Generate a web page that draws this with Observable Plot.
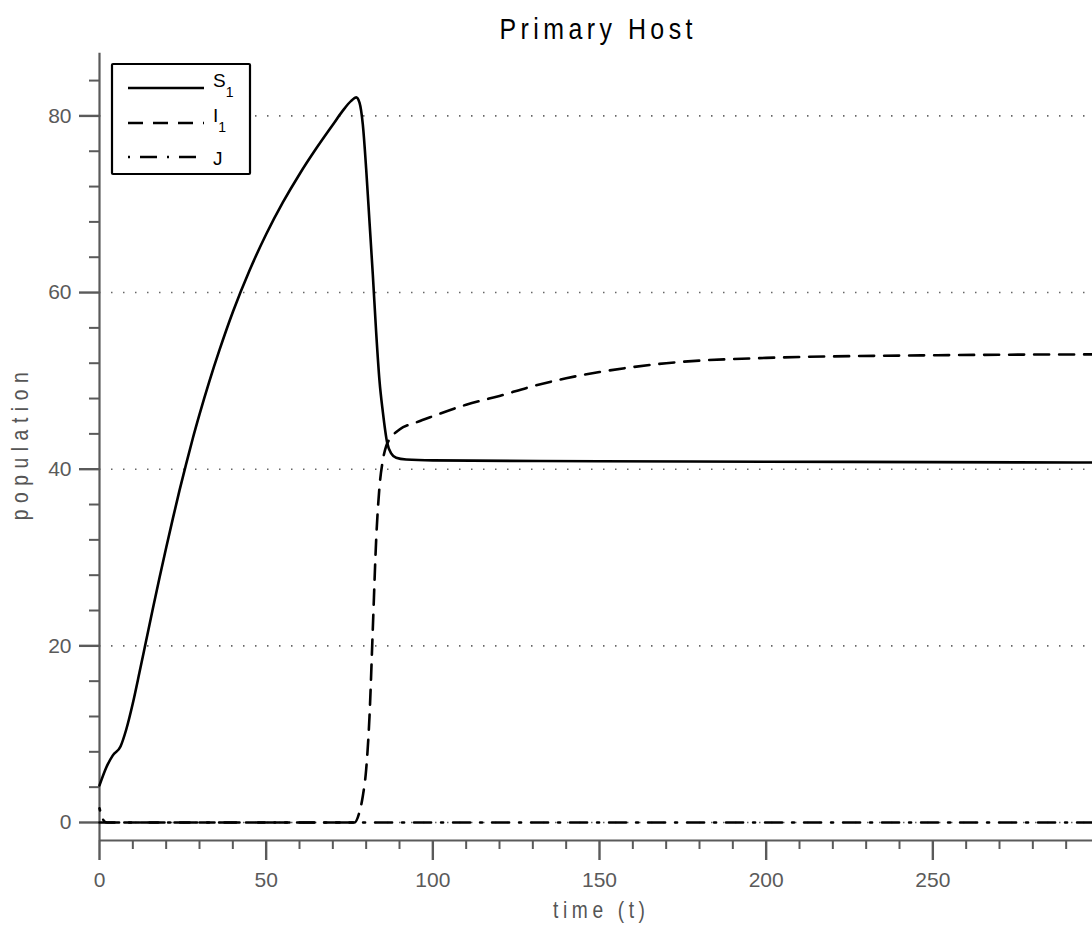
<!DOCTYPE html>
<html>
<head>
<meta charset="utf-8">
<script src="https://cdn.jsdelivr.net/npm/d3@7"></script>
<script src="https://cdn.jsdelivr.net/npm/@observablehq/plot@0.6"></script>
<style>
  html, body { margin: 0; padding: 0; background: #fff; }
  #chart { width: 1092px; height: 928px; }
</style>
</head>
<body>
<div id="chart"></div>
<script>
// ---- data ----
const title = "Primary Host";
const xLabel = "time (t)";
const yLabel = "population";

const tS = [0, 2, 4, 6.3, 8, 10, 12, 14, 16, 18, 20, 22, 24, 26, 28, 30, 33, 36, 40, 45, 50, 55, 60, 65, 70, 73, 75.5, 77, 78, 79, 80, 81, 82, 83, 84, 85, 86.3, 87.5, 89, 92, 100, 150, 200, 250, 297.9];
const S1 = [4.2, 6.2, 7.6, 8.6, 10.5, 13.5, 17, 20.6, 24.2, 27.7, 31.1, 34.4, 37.6, 40.6, 43.5, 46.2, 50, 53.5, 57.8, 62.5, 66.6, 70.2, 73.4, 76.3, 79, 80.6, 81.7, 82.1, 81.5, 79, 74, 68, 62, 55.5, 50, 46.5, 43, 41.8, 41.3, 41.1, 41.0, 40.9, 40.85, 40.8, 40.75];

const tI = [0, 76.5, 78, 79, 80, 81, 82, 83, 84, 85, 86, 87.5, 90, 95, 100, 110, 120, 130, 140, 150, 170, 200, 250, 297.9];
const I1 = [0, 0, 1.2, 3, 6, 12, 22, 32, 38, 41, 42.6, 43.6, 44.5, 45.3, 46, 47.3, 48.3, 49.4, 50.3, 51.0, 52.0, 52.6, 52.9, 53.0];

const tJ = [0, 0.5, 1, 1.5, 2.3, 297.9];
const J = [1.6, 0.9, 0.4, 0.1, 0, 0];

const xDomain = [0, 297.9];
const yDomain = [-2.04, 87.1];
const xMajor = [0, 50, 100, 150, 200, 250];
const xMinor = d3.range(0, 298, 10).filter(v => v % 50 !== 0);
const yMajor = [0, 20, 40, 60, 80];
const yMinor = d3.range(0, 88, 4).filter(v => v % 20 !== 0);

const legendItems = [
  {base: "S", sub: "1", dash: null},
  {base: "I", sub: "1", dash: "15,10"},
  {base: "J", sub: "", dash: "2,10,17,10"}
];

// ---- build tables ----
const dS = tS.map((t, i) => ({t, v: S1[i]}));
const dI = tI.map((t, i) => ({t, v: I1[i]}));
const dJ = tJ.map((t, i) => ({t, v: J[i]}));

const axisColor = "#5a5a5a";
const tickFont = "'Liberation Sans', Arial, Helvetica, sans-serif";

const plot = Plot.plot({
  width: 1092,
  height: 928,
  marginLeft: 99,
  marginRight: 0,
  marginTop: 52.7,
  marginBottom: 88,
  style: {background: "#fff", fontFamily: tickFont},
  x: {domain: xDomain, label: null},
  y: {domain: yDomain, label: null},
  marks: [
    Plot.gridY(yMajor, {stroke: "#666", strokeOpacity: 1, strokeWidth: 1.6, strokeDasharray: "1.5,10.5"}),
    Plot.ruleX([xDomain[0]], {stroke: axisColor, strokeWidth: 2.2}),
    Plot.ruleY([yDomain[0]], {stroke: axisColor, strokeWidth: 2.2}),
    Plot.axisX(xMajor, {tickSize: 20, tickPadding: 12, stroke: axisColor, strokeWidth: 2.4, fill: axisColor, fontSize: 21, label: null}),
    Plot.axisX(xMinor, {tickSize: 9, tickFormat: () => "", stroke: axisColor, strokeWidth: 2, label: null}),
    Plot.axisY(yMajor, {tickSize: 20, tickPadding: 8, stroke: axisColor, strokeWidth: 2.4, fill: axisColor, fontSize: 21, label: null}),
    Plot.axisY(yMinor, {tickSize: 10, tickFormat: () => "", stroke: axisColor, strokeWidth: 2, label: null}),
    Plot.line(dJ, {x: "t", y: "v", stroke: "#000", strokeWidth: 2.6, strokeDasharray: "2,10,17,10", curve: "monotone-x"}),
    Plot.line(dI, {x: "t", y: "v", stroke: "#000", strokeWidth: 2.6, strokeDasharray: "15,10", curve: "monotone-x"}),
    Plot.line(dS, {x: "t", y: "v", stroke: "#000", strokeWidth: 2.6, curve: "monotone-x"})
  ]
});

document.getElementById("chart").appendChild(plot);
const svg = d3.select(plot);

// ---- titles (condensed, widely spaced like the reference) ----
const xs = plot.scale("x"), ys = plot.scale("y");
const xMid = (xs.range[0] + xs.apply(300)) / 2;
const yMid = (ys.range[0] + ys.range[1]) / 2;
function addLabel(text, size, fill, transform, len) {
  svg.append("text")
    .attr("transform", transform)
    .attr("text-anchor", "middle")
    .attr("font-family", tickFont)
    .attr("font-size", size)
    .attr("fill", fill)
    .attr("textLength", len)
    .attr("lengthAdjust", "spacing")
    .text(text);
}
const sqT = 0.86, sq = 0.8;
addLabel(title, 29, "#000", `translate(${xMid - 3},39) scale(${sqT},1)`, 193 / sqT);
addLabel(xLabel, 24, "#555", `translate(${xMid},918) scale(${sq},1)`, 92 / sq);
addLabel(yLabel, 24, "#555", `translate(28,${yMid}) rotate(-90) scale(${sq},1)`, 148 / sq);

// ---- legend box ----
const lg = svg.append("g").attr("class", "legend").attr("text-anchor", "start");
lg.append("rect").attr("x", 112).attr("y", 64).attr("width", 138).attr("height", 110)
  .attr("fill", "#fff").attr("stroke", "#000").attr("stroke-width", 2.2).attr("rx", 1);
const rowY = [88, 123, 157];
legendItems.forEach((it, i) => {
  const y = rowY[i];
  lg.append("line").attr("x1", 128).attr("x2", 204).attr("y1", y).attr("y2", y)
    .attr("stroke", "#000").attr("stroke-width", 2.6)
    .attr("stroke-dasharray", it.dash);
  const txt = lg.append("text").attr("x", 213).attr("y", it.sub ? y - 1 : y + 8)
    .attr("text-anchor", "start")
    .attr("font-family", tickFont).attr("font-size", 19).attr("fill", "#000");
  txt.append("tspan").text(it.base);
  if (it.sub) txt.append("tspan").attr("dy", 10).attr("font-size", 14).text(it.sub);
});
</script>
</body>
</html>
